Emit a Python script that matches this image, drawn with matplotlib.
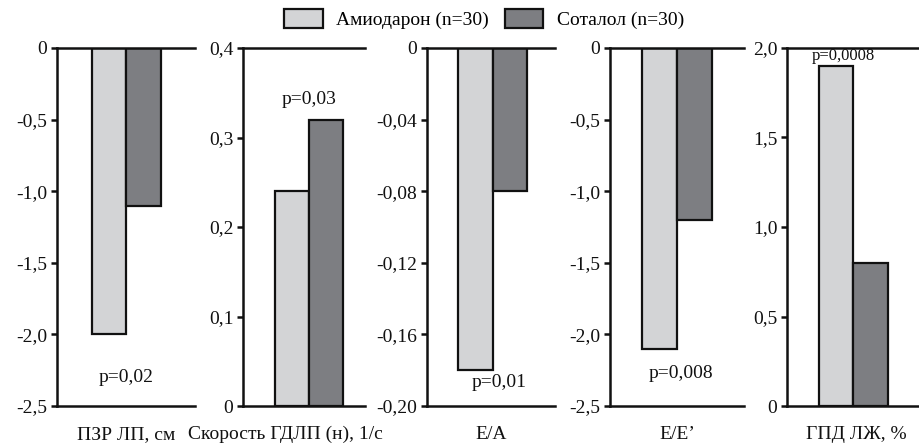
import matplotlib
matplotlib.use('Agg')
import matplotlib.pyplot as plt
from matplotlib.patches import Patch

plt.rcParams['font.family'] = ['Liberation Serif', 'DejaVu Serif']
plt.rcParams['font.size'] = 14

# данные
panels = ['ПЗР ЛП, см', 'Скорость ГДЛП (н), 1/с', 'E/A', 'E/E’', 'ГПД ЛЖ, %']
amiodaron = [-2.0, 0.24, -0.18, -2.1, 1.9]
sotalol = [-1.1, 0.32, -0.08, -1.2, 0.8]
p_values = ['p=0,02', 'p=0,03', 'p=0,01', 'p=0,008', 'p=0,0008']
p_y = [-2.3, 0.343, -0.187, -2.27, 1.955]
p_x = [1.0, 1.0, 1.2, 1.1, 0.7]
ylims = [(-2.5, 0), (0, 0.4), (-0.20, 0), (-2.5, 0), (0, 2.0)]
yticks = [[0, -0.5, -1.0, -1.5, -2.0, -2.5],
          [0, 0.1, 0.2, 0.3, 0.4],
          [0, -0.04, -0.08, -0.12, -0.16, -0.20],
          [0, -0.5, -1.0, -1.5, -2.0, -2.5],
          [0, 0.5, 1.0, 1.5, 2.0]]
ytick_labels = [['0', '-0,5', '-1,0', '-1,5', '-2,0', '-2,5'],
                ['0', '0,1', '0,2', '0,3', '0,4'],
                ['0', '-0,04', '-0,08', '-0,12', '-0,16', '-0,20'],
                ['0', '-0,5', '-1,0', '-1,5', '-2,0', '-2,5'],
                ['0', '0,5', '1,0', '1,5', '2,0']]

light = '#d3d4d6'
dark = '#7d7e82'

W, H = 920, 444
fig = plt.figure(figsize=(W / 100, H / 100), dpi=100)

# положение осей в пикселях: левый край, правый край
lefts = [57, 243, 427, 610, 787]
rights = [195, 365, 555, 744, 920]
xlims = [(-1.01, 2.99), (-0.94, 2.65), (-0.9, 2.81), (-0.91, 2.9), (-0.93, 2.93)]
label_x = [0.5, 0.35, 0.5, 0.5, 0.52]
top_px, bot_px = 48, 406

for i in range(5):
    ax = fig.add_axes([lefts[i] / W, 1 - bot_px / H,
                       (rights[i] - lefts[i]) / W, (bot_px - top_px) / H])
    ax.bar([0], [amiodaron[i]], width=1, align='edge', color=light,
           edgecolor='#111111', linewidth=1.6)
    ax.bar([1], [sotalol[i]], width=1, align='edge', color=dark,
           edgecolor='#111111', linewidth=1.6)
    ax.set_xlim(*xlims[i])
    ax.set_ylim(*ylims[i])
    ax.set_yticks(yticks[i])
    ax.set_yticklabels(ytick_labels[i])
    ax.set_xticks([])
    ax.spines['right'].set_visible(False)
    for s in ['left', 'top', 'bottom']:
        ax.spines[s].set_linewidth(1.8)
        ax.spines[s].set_color('#111111')
    ax.tick_params(axis='y', direction='out', length=4, width=1.8, pad=3,
                   colors='#111111', labelsize=14)
    fs = 12 if i == 4 else 14
    ax.text(p_x[i], p_y[i], p_values[i], ha='center', va='center',
            fontsize=fs, color='#111111')
    ax.set_xlabel(panels[i], fontsize=14, color='#111111')
    ax.xaxis.set_label_coords(label_x[i], -0.055, transform=ax.transAxes)
    ax.patch.set_visible(False)

handles = [Patch(facecolor=light, edgecolor='#111111', linewidth=1.6, label='Амиодарон (n=30)'),
           Patch(facecolor=dark, edgecolor='#111111', linewidth=1.6, label='Соталол (n=30)')]
fig.legend(handles=handles, loc='center', bbox_to_anchor=(484 / W, 1 - 19 / H),
           ncol=2, frameon=False, fontsize=14, handlelength=2.0, handleheight=1.1,
           columnspacing=0.8, handletextpad=0.7)

fig.savefig('out.png', dpi=100)
